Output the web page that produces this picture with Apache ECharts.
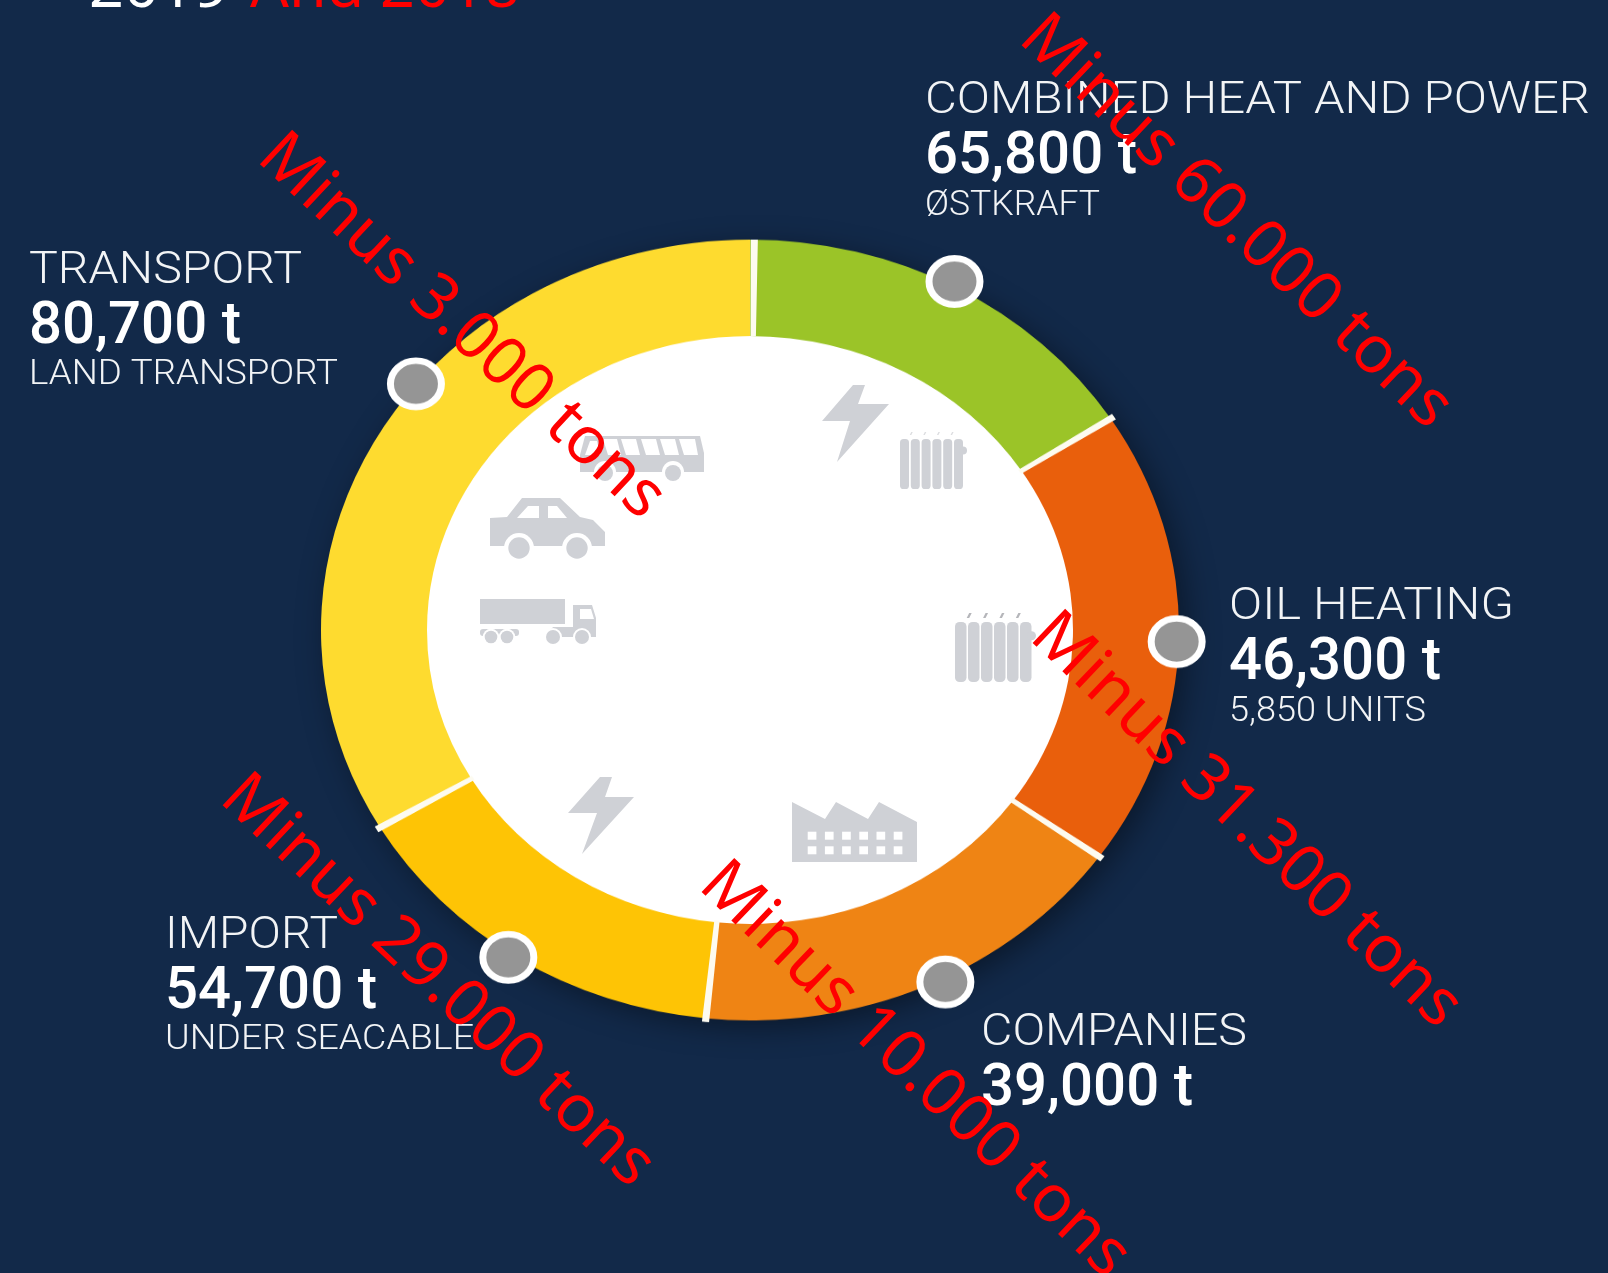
<!DOCTYPE html>
<html>
<head>
<meta charset="utf-8">
<title>Emissions ring</title>
<script src="https://cdn.jsdelivr.net/npm/echarts@6/dist/echarts.min.js"></script>
<style>
    html, body { margin: 0; padding: 0; background: #122949; overflow: hidden; }
    #stage { position: relative; width: 1608px; height: 1273px; overflow: hidden; }
    /* pie is a circle in echarts, the reference ring is squashed, so scale the whole chart */
    #ring { position: absolute; left: 250px; top: 130px; width: 1000px; height: 1000px; transform: scaleY(0.91); transform-origin: 50% 50%; }
    #overlay { position: absolute; left: 0; top: 0; width: 1608px; height: 1273px; }
</style>
</head>
<body>
<div id="stage">
    <div id="ring"></div>
    <div id="overlay"></div>
</div>
<script>
    // clockwise from 12 o'clock
    const categories = ['COMBINED HEAT AND POWER', 'OIL HEATING', 'COMPANIES', 'IMPORT', 'TRANSPORT'];
    const amountLabels = ['65,800 t', '46,300 t', '39,000 t', '54,700 t', '80,700 t'];
    const subLabels = ['ØSTKRAFT', '5,850 UNITS', '', 'UNDER SEACABLE', 'LAND TRANSPORT'];
    // arc sizes measured on the picture, they are not proportional to the printed tons
    const sliceDegrees = [57.2, 68.3, 60.4, 53.7, 120.4];
    const sliceColors = ['#9bc428', '#e95f0c', '#ef8414', '#fec405', '#fedb2f'];
    const pinAngles = [28.1, 91.7, 153.2, 213.9, 309];
    const pinRadius = [1.012, 0.995, 1.01, 1.01, 1.002];
    const reductionLabels = ['Minus 60.000 tons', 'Minus 31.300 tons', 'Minus 10.000 tons', 'Minus 29.000 tons', 'Minus 3.000 tons'];

    const LABEL_TEXT = '#f2f4f6';
    const ICON = '#cfd1d6';
    const SEP = 0.95; // separator width in degrees

    // ---- ring ----
    // first separator (12 o'clock) stays inside the ring, so it gets its own series below
    const separators = [];
    sliceDegrees.forEach(function (d, i) {
        separators.push({ value: SEP, itemStyle: { color: i === 0 ? 'transparent' : '#fdfbf0' } });
        separators.push({ value: d - SEP, itemStyle: { color: 'transparent' } });
    });
    const pieBase = { type: 'pie', center: ['50%', '50%'], silent: true, label: { show: false }, labelLine: { show: false } };

    const ring = echarts.init(document.getElementById('ring'));
    ring.setOption({
        animation: false,
        // radius axis runs to 1.1 so that 1 is the outer edge of the ring (429px)
        polar: { center: ['50%', '50%'], radius: 471.9 },
        radiusAxis: { min: 0, max: 1.1, show: false },
        angleAxis: { min: 0, max: 360, startAngle: 90, show: false },
        graphic: [
            {
                type: 'circle', z: -1, x: 500, y: 500,
                shape: { r: 427 },
                style: { fill: '#fff', shadowBlur: 34, shadowColor: 'rgba(0,0,0,0.45)', shadowOffsetX: 8, shadowOffsetY: 8 }
            }
        ],
        series: [
            Object.assign({}, pieBase, {
                radius: [323, 429],
                startAngle: 90,
                data: sliceDegrees.map(function (d, i) {
                    return { name: categories[i], value: d, itemStyle: { color: sliceColors[i] } };
                })
            }),
            Object.assign({}, pieBase, {
                radius: [321, 433],
                startAngle: 90 + SEP / 2,
                data: separators
            }),
            Object.assign({}, pieBase, {
                radius: [323, 429],
                startAngle: 90 - 0.1,
                data: [
                    { value: SEP, itemStyle: { color: '#fdfbf0' } },
                    { value: 360 - SEP, itemStyle: { color: 'transparent' } }
                ]
            }),
            {
                type: 'scatter',
                coordinateSystem: 'polar',
                symbolSize: 51,
                silent: true,
                z: 5,
                itemStyle: { color: '#959595', borderColor: '#fff', borderWidth: 7, opacity: 1 },
                data: pinAngles.map(function (a, i) { return [pinRadius[i], a]; })
            }
        ]
    });

    // ---- text + icons ----
    const measure = document.createElement('canvas').getContext('2d');
    function text(str, x, y, size, weight, family, fill, width, extra) {
        measure.font = weight + ' ' + size + 'px ' + family;
        const el = {
            type: 'text', x: x, y: y, z: 10,
            scaleX: width ? width / measure.measureText(str).width : 1,
            style: {
                text: str, fill: fill, fontSize: size, fontWeight: weight, fontFamily: family,
                textAlign: 'left', textVerticalAlign: 'middle'
            }
        };
        return Object.assign(el, extra || {});
    }

    // x, title y, title w, amount y, amount w, sub y, sub w
    const blocks = [
        [925, 102, 665, 158, 212, 206, 175],
        [1229, 608, 285, 663.5, 212, 712.5, 197],
        [981, 1034, 266, 1090, 212, 0, 0],
        [165, 937, 173, 993, 212, 1040.5, 309],
        [29, 271.5, 273, 327.5, 212, 375.5, 309]
    ];
    const elements = [];
    categories.forEach(function (c, i) {
        const b = blocks[i];
        elements.push(text(c, b[0], b[1], 44, 300, 'Roboto', LABEL_TEXT, b[2]));
        elements.push(text(amountLabels[i], b[0], b[3], 60, 500, 'Roboto', '#ffffff', b[4]));
        if (subLabels[i]) elements.push(text(subLabels[i], b[0], b[5], 35, 300, 'Roboto', LABEL_TEXT, b[6]));
    });

    // red notes: start point and slope of each one
    const notePos = [[1030, 27, 43.5], [1041, 625, 43.7], [710, 874, 43.8], [231, 787, 43.3], [268, 146, 43.1]];
    reductionLabels.forEach(function (t, i) {
        const p = notePos[i];
        elements.push(text(t, p[0], p[1], 66, 400, '"Noto Sans"', '#ff0000', 0, { rotation: -p[2] * Math.PI / 180, z: 20 }));
    });
    elements.push(text('2019', 89, -10, 61, 400, '"Noto Sans"', '#ffffff', 0));
    elements.push(text('And 2018', 250, -10, 61, 400, '"Noto Sans"', '#ff0000', 0));

    function poly(points, fill) {
        return { type: 'polygon', z: 5, shape: { points: points }, style: { fill: fill } };
    }
    function dot(x, y, r, fill) {
        return { type: 'circle', z: 5, x: x, y: y, shape: { r: r }, style: { fill: fill } };
    }
    function box(x, y, w, h, r, fill) {
        return { type: 'rect', z: 5, shape: { x: x, y: y, width: w, height: h, r: r }, style: { fill: fill } };
    }
    function radiator(x, y, w, pitch, h, knobR, dashW, dashFill) {
        for (let i = 0; i < 6; i++) elements.push(box(x + i * pitch, y, w, h, w / 2.5, ICON));
        elements.push(dot(x + 5 * pitch + w, y + h * 0.23, knobR, ICON));
        for (let i = 0; i < 4; i++) {
            const dx = x + pitch * 0.9 + i * pitch * 1.26;
            elements.push(poly([[dx, y - 4], [dx + dashW * 0.5, y - 4 - dashW], [dx + dashW, y - 4 - dashW], [dx + dashW * 0.5, y - 4]], dashFill));
        }
    }

    // bus
    elements.push(poly([[585, 436], [700, 436], [704, 453], [704, 472], [580, 472], [580, 455]], ICON));
    [[679, 695, 698, 684], [660, 675, 679, 665], [641, 656, 660, 646], [621, 636, 640, 626], [603, 617, 621, 608]].forEach(function (w) {
        elements.push(poly([[w[0], 439], [w[1], 439], [w[2], 455], [w[3], 455]], '#fff'));
    });
    elements.push(poly([[590, 441], [597, 441], [600, 455], [585, 455]], '#fff'));
    elements.push(dot(605, 472, 11, '#fff'), dot(605, 473, 8, ICON), dot(673, 472, 11, '#fff'), dot(673, 473, 8, ICON));
    // car
    elements.push(poly([[490, 518], [507, 517], [522, 498], [560, 498], [580, 517], [593, 520], [605, 532], [605, 546], [490, 546]], ICON));
    elements.push(poly([[517, 518], [528, 506], [539, 506], [539, 518]], '#fff'), poly([[548, 506], [557, 506], [567, 518], [548, 518]], '#fff'));
    elements.push(dot(519, 548, 15, '#fff'), dot(519, 548, 10.7, ICON), dot(577, 548, 15, '#fff'), dot(577, 548, 10.7, ICON));
    // truck
    elements.push(box(480, 599, 85, 25, 0, ICON));
    elements.push(poly([[573, 605], [592, 605], [596, 618], [596, 637], [545, 637], [553, 627], [573, 627]], ICON));
    elements.push(poly([[580, 609], [591, 609], [594, 619], [580, 619]], '#fff'));
    elements.push(box(480, 629, 39, 7, 3, ICON));
    [[491, 6.3], [507, 6.3], [553, 7], [582, 7]].forEach(function (w) {
        elements.push(dot(w[0], 637, w[1] + 2, '#fff'), dot(w[0], 637, w[1], ICON));
    });
    // lightning
    elements.push(poly([[853, 385], [865, 385], [858, 404], [889, 404], [837, 462], [850, 421], [822, 421]], ICON));
    elements.push(poly([[600, 777], [612, 777], [605, 797], [634, 797], [582, 854], [597, 813], [568, 813]], ICON));
    // radiators
    radiator(900, 439, 9, 10.8, 50, 4, 3, '#dcdde0');
    radiator(955, 622, 11.5, 13, 60, 4.5, 5, '#b5b6ba');
    // factory
    elements.push(poly([[792, 802], [825, 819], [836, 802], [868, 819], [879, 802], [917, 822], [917, 862], [792, 862]], ICON));
    for (let r = 0; r < 2; r++) {
        for (let c = 0; c < 6; c++) {
            elements.push(box(807.7 + c * 17.2, 831.7 + r * 14.6, 8.7, 8, 0, '#fff'));
        }
    }

    const overlay = echarts.init(document.getElementById('overlay'));
    overlay.setOption({ animation: false, graphic: elements });
</script>
</body>
</html>
